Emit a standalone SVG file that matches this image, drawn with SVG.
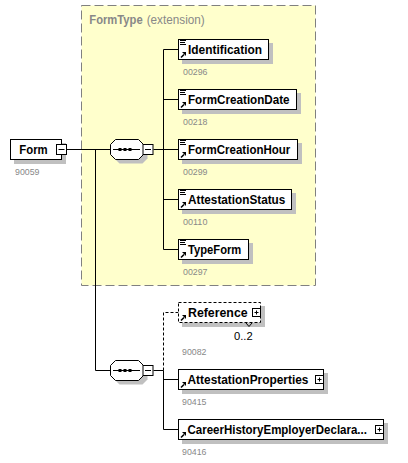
<svg xmlns="http://www.w3.org/2000/svg" width="408" height="463" viewBox="0 0 408 463">
<style>
.lbl{font-family:"Liberation Sans",Arial,sans-serif;font-weight:bold;font-size:13px;fill:#000}
.num{font-family:"Liberation Sans",Arial,sans-serif;font-size:9.5px;fill:#888888}
.card{font-family:"Liberation Sans",Arial,sans-serif;font-size:11.5px;fill:#000}
.hdr{font-family:"Liberation Sans",Arial,sans-serif;font-size:12.5px;fill:#888888}
.box{fill:#fff;stroke:#000;stroke-width:1}
.dbox{fill:#fff;stroke:#000;stroke-width:1;stroke-dasharray:3,2}
.sh{fill:#c0c0c0}
.btn{fill:#fff;stroke:#000;stroke-width:1}
.ln{fill:none;stroke:#000;stroke-width:1}
.dln{fill:none;stroke:#000;stroke-width:1;stroke-dasharray:3,2}
</style>
<defs>
<g id="doc">
<path d="M1.5,1 h6 M1.5,3 h5 M1.5,5 h6" stroke="#000" stroke-width="1" fill="none"/>
</g>
<g id="arr">
<path d="M2.5,18 L5.5,15" stroke="#000" stroke-width="1.6" fill="none"/>
<polygon points="7.5,12.5 7.5,16.5 3.5,12.5" fill="#000"/>
</g>
<g id="seq">
<polygon class="sh" points="9.5,4 32.5,4 37.5,9 37.5,19 32.5,24 9.5,24 4.5,19 4.5,9"/>
<polygon fill="#fff" stroke="#000" points="5.5,0 28.5,0 33.5,5 33.5,15 28.5,20 5.5,20 0.5,15 0.5,5"/>
<path d="M3,10 H30" stroke="#000" fill="none"/>
<rect x="8.5" y="8.5" width="3" height="3" fill="#000"/>
<rect x="13.5" y="8.5" width="3" height="3" fill="#000"/>
<rect x="18.5" y="8.5" width="3" height="3" fill="#000"/>
<rect class="btn" x="33" y="5" width="10" height="10"/>
<path d="M35,10 H41" stroke="#000" fill="none"/>
</g>
</defs>

<g id="formtype">
<rect x="81.5" y="5.5" width="234" height="280" fill="#ffffcc" stroke="#808080" stroke-width="1" stroke-dasharray="9,4"/>
<text class="hdr" x="89.3" y="24" font-weight="bold" textLength="53.4" lengthAdjust="spacingAndGlyphs">FormType</text>
<text class="hdr" x="146.7" y="24" textLength="58" lengthAdjust="spacingAndGlyphs">(extension)</text>
</g>

<g id="connectors">
<path class="ln" d="M66.5,149.5 H110.5"/>
<path class="ln" d="M95.5,149.5 V370.5 H110.5"/>
<path class="ln" d="M153.5,149.5 H163.5"/>
<path class="ln" d="M163.5,49.5 V249.5"/>
<path class="ln" d="M163.5,49.5 H178.5 M163.5,99.5 H178.5 M163.5,149.5 H178.5 M163.5,199.5 H178.5 M163.5,249.5 H178.5"/>
<path class="ln" d="M153.5,370.5 H163.5"/>
<path class="dln" d="M163.5,370.5 V312.5 H178.5"/>
<path class="ln" d="M163.5,370.5 V429.5 H178.5 M163.5,379.5 H178.5"/>
</g>

<g id="node-form">
<rect class="sh" x="14" y="143" width="52" height="21"/>
<rect class="box" x="10.5" y="139.5" width="51" height="20"/>
<text class="lbl" x="19.3" y="154" textLength="28.4" lengthAdjust="spacingAndGlyphs">Form</text>
<rect class="btn" x="56.5" y="144.5" width="10" height="10"/>
<path d="M58.5,149.5 H64.5" stroke="#000" fill="none"/>
<text class="num" x="15" y="175" textLength="24.4" lengthAdjust="spacingAndGlyphs">90059</text>
</g>

<g id="node-seq1">
<use href="#seq" x="110" y="139.5"/>
</g>

<g id="node-identification">
<rect class="sh" x="182" y="43" width="91" height="21"/>
<rect class="box" x="178.5" y="39.5" width="90" height="20"/>
<use href="#doc" x="178.5" y="39.5"/>
<use href="#arr" x="178.5" y="39.5"/>
<text class="lbl" x="188" y="54.3" textLength="74" lengthAdjust="spacingAndGlyphs">Identification</text>
<text class="num" x="183" y="75" textLength="24.4" lengthAdjust="spacingAndGlyphs">00296</text>
</g>

<g id="node-formcreationdate">
<rect class="sh" x="182" y="93" width="119" height="21"/>
<rect class="box" x="178.5" y="89.5" width="118" height="20"/>
<use href="#doc" x="178.5" y="89.5"/>
<use href="#arr" x="178.5" y="89.5"/>
<text class="lbl" x="188" y="104.3" textLength="101.6" lengthAdjust="spacingAndGlyphs">FormCreationDate</text>
<text class="num" x="183" y="125" textLength="24.4" lengthAdjust="spacingAndGlyphs">00218</text>
</g>

<g id="node-formcreationhour">
<rect class="sh" x="182" y="143" width="120" height="21"/>
<rect class="box" x="178.5" y="139.5" width="119" height="20"/>
<use href="#doc" x="178.5" y="139.5"/>
<use href="#arr" x="178.5" y="139.5"/>
<text class="lbl" x="188" y="154.3" textLength="102.3" lengthAdjust="spacingAndGlyphs">FormCreationHour</text>
<text class="num" x="183" y="175" textLength="24.4" lengthAdjust="spacingAndGlyphs">00299</text>
</g>

<g id="node-attestationstatus">
<rect class="sh" x="182" y="193" width="114" height="21"/>
<rect class="box" x="178.5" y="189.5" width="113" height="20"/>
<use href="#doc" x="178.5" y="189.5"/>
<use href="#arr" x="178.5" y="189.5"/>
<text class="lbl" x="188" y="204.3" textLength="97.3" lengthAdjust="spacingAndGlyphs">AttestationStatus</text>
<text class="num" x="183" y="225" textLength="24.4" lengthAdjust="spacingAndGlyphs">00110</text>
</g>

<g id="node-typeform">
<rect class="sh" x="182" y="243" width="71" height="21"/>
<rect class="box" x="178.5" y="239.5" width="70" height="20"/>
<use href="#doc" x="178.5" y="239.5"/>
<use href="#arr" x="178.5" y="239.5"/>
<text class="lbl" x="188" y="254.3" textLength="53.3" lengthAdjust="spacingAndGlyphs">TypeForm</text>
<text class="num" x="183" y="275" textLength="24.4" lengthAdjust="spacingAndGlyphs">00297</text>
</g>

<g id="node-seq2">
<use href="#seq" x="110" y="360.5"/>
</g>

<g id="node-reference">
<rect class="sh" x="182" y="306" width="83" height="21"/>
<rect class="dbox" x="178.5" y="302.5" width="82" height="20"/>
<use href="#arr" x="178.5" y="302.5"/>
<text class="lbl" x="188" y="317.3" textLength="59.6" lengthAdjust="spacingAndGlyphs">Reference</text>
<rect class="btn" x="252.5" y="308.5" width="8" height="8"/>
<path d="M254.5,312.5 H258.5 M256.5,310.5 V314.5" stroke="#000" fill="none"/>
<polyline points="246,323 249,326.5 252,323" fill="none" stroke="#000" stroke-width="1"/>
<text class="card" x="234" y="340" textLength="18.7" lengthAdjust="spacingAndGlyphs">0..2</text>
<text class="num" x="182" y="355" textLength="24.4" lengthAdjust="spacingAndGlyphs">90082</text>
</g>

<g id="node-attestationproperties">
<rect class="sh" x="182" y="373" width="146" height="21"/>
<rect class="box" x="178.5" y="369.5" width="145" height="20"/>
<use href="#arr" x="178.5" y="369.5"/>
<text class="lbl" x="187.5" y="384.3" textLength="121" lengthAdjust="spacingAndGlyphs">AttestationProperties</text>
<rect class="btn" x="315.5" y="375.5" width="8" height="8"/>
<path d="M317.5,379.5 H321.5 M319.5,377.5 V381.5" stroke="#000" fill="none"/>
<text class="num" x="182" y="404.5" textLength="24.4" lengthAdjust="spacingAndGlyphs">90415</text>
</g>

<g id="node-careerhistory">
<rect class="sh" x="182" y="423" width="206" height="21"/>
<rect class="box" x="178.5" y="419.5" width="205" height="20"/>
<use href="#arr" x="178.5" y="419.5"/>
<text class="lbl" x="187.5" y="434.3" textLength="179.4" lengthAdjust="spacingAndGlyphs">CareerHistoryEmployerDeclara...</text>
<rect class="btn" x="375.5" y="425.5" width="8" height="8"/>
<path d="M377.5,429.5 H381.5 M379.5,427.5 V431.5" stroke="#000" fill="none"/>
<text class="num" x="182" y="455" textLength="24.4" lengthAdjust="spacingAndGlyphs">90416</text>
</g>
</svg>
